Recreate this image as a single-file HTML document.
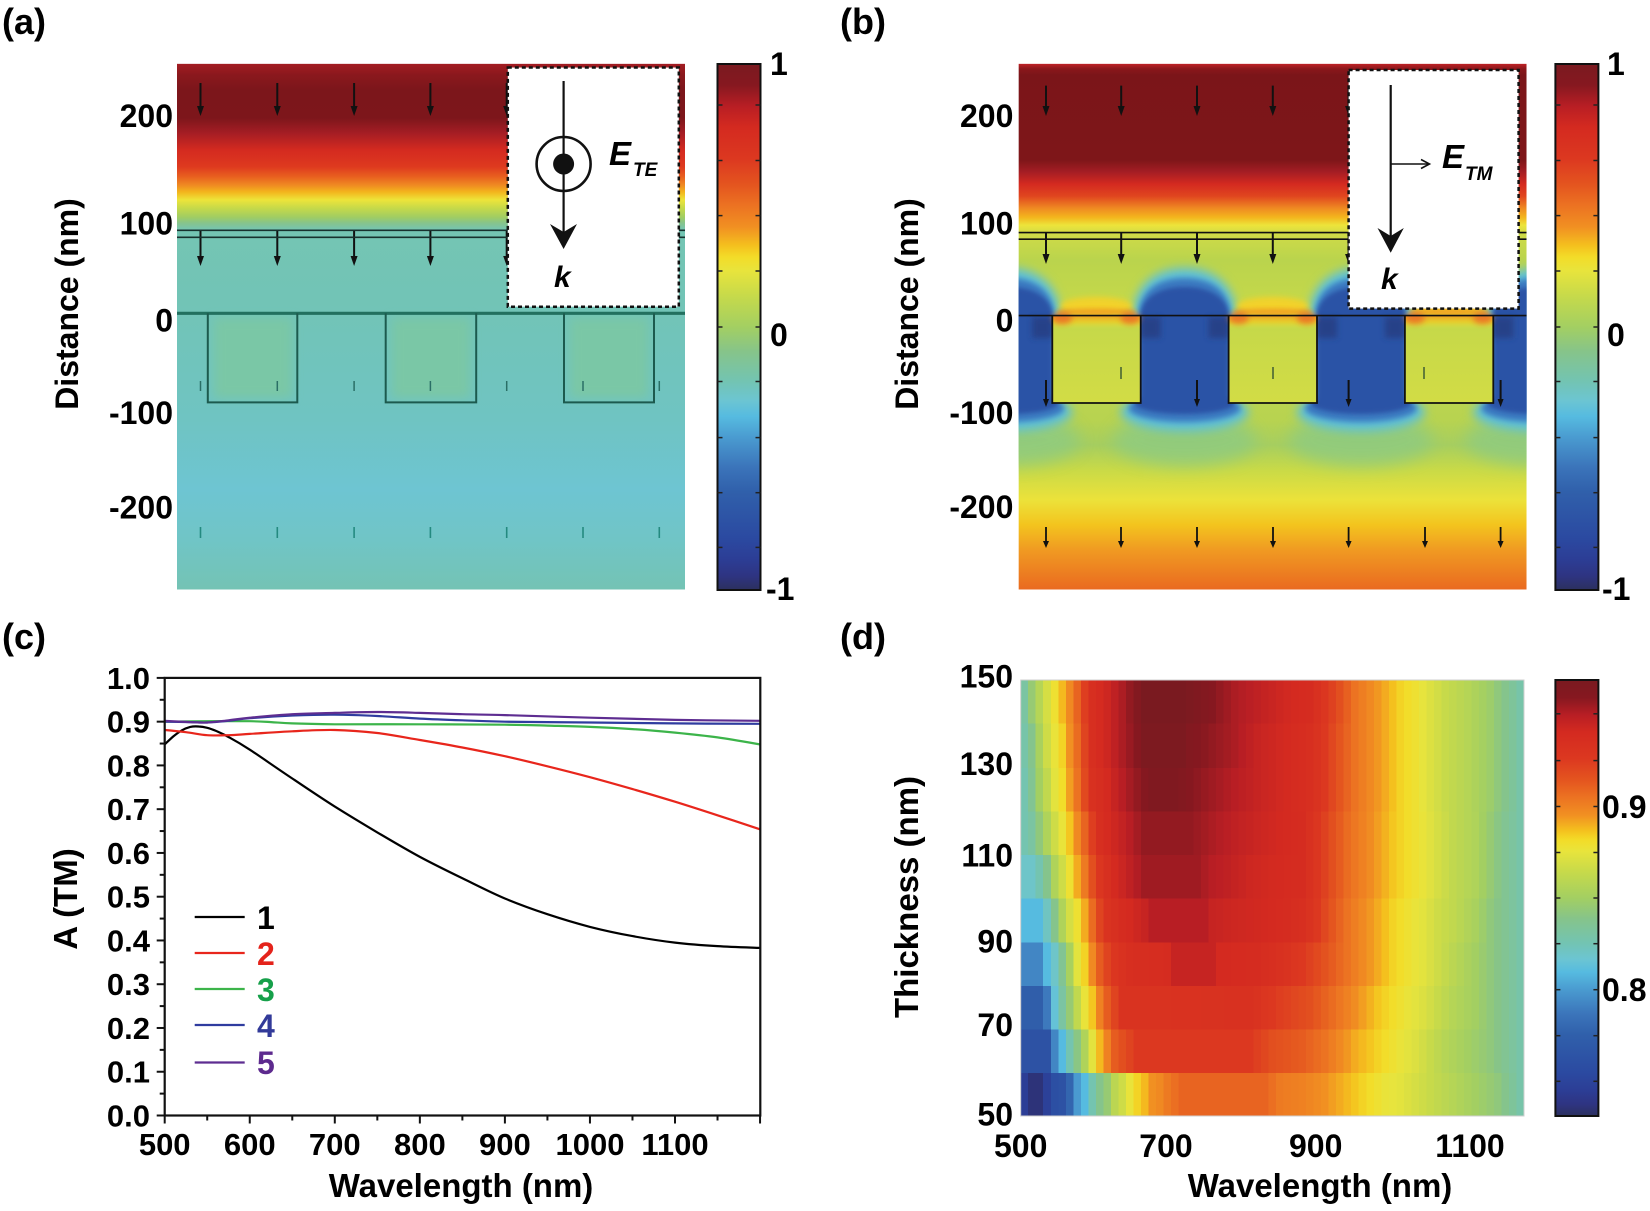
<!DOCTYPE html>
<html><head><meta charset="utf-8">
<style>
html,body{margin:0;padding:0;background:#fff;}
svg{display:block;}
text{font-family:"Liberation Sans",Arial,sans-serif;font-weight:bold;fill:#000;}
</style></head><body>
<svg id="s" width="1650" height="1211" viewBox="0 0 1650 1211" xmlns="http://www.w3.org/2000/svg">
<defs>
 <linearGradient id="cmap" x1="0" y1="0" x2="0" y2="1">
  <stop offset="0" stop-color="#7a1a20"/><stop offset="0.04" stop-color="#861820"/>
  <stop offset="0.08" stop-color="#b81e24"/><stop offset="0.12" stop-color="#d42a20"/>
  <stop offset="0.18" stop-color="#dc3820"/><stop offset="0.23" stop-color="#e4551f"/>
  <stop offset="0.27" stop-color="#ec7322"/><stop offset="0.31" stop-color="#f19022"/>
  <stop offset="0.345" stop-color="#f4c01e"/><stop offset="0.367" stop-color="#f3dc28"/>
  <stop offset="0.393" stop-color="#e8e43c"/><stop offset="0.44" stop-color="#c7da4a"/>
  <stop offset="0.5" stop-color="#a3cf62"/><stop offset="0.547" stop-color="#86c48a"/>
  <stop offset="0.603" stop-color="#73c4b2"/><stop offset="0.64" stop-color="#6cc5d2"/>
  <stop offset="0.67" stop-color="#56bbe0"/><stop offset="0.71" stop-color="#4a9bd0"/>
  <stop offset="0.767" stop-color="#3b74ba"/><stop offset="0.813" stop-color="#3060ab"/>
  <stop offset="0.9" stop-color="#2b4aa1"/><stop offset="0.94" stop-color="#2c3e96"/>
  <stop offset="0.973" stop-color="#2e3482"/><stop offset="1" stop-color="#2c305e"/>
 </linearGradient>
 <linearGradient id="fa" x1="0" y1="0" x2="0" y2="1">
  <stop offset="0" stop-color="#a31c22"/><stop offset="0.0215" stop-color="#8a181d"/>
  <stop offset="0.05" stop-color="#7c161b"/><stop offset="0.103" stop-color="#7d161b"/>
  <stop offset="0.132" stop-color="#a51d24"/><stop offset="0.164" stop-color="#d42a20"/>
  <stop offset="0.196" stop-color="#de3a1f"/><stop offset="0.215" stop-color="#e8601f"/>
  <stop offset="0.231" stop-color="#ef8a22"/><stop offset="0.244" stop-color="#f3b51d"/>
  <stop offset="0.259" stop-color="#ede43a"/><stop offset="0.275" stop-color="#c5d94a"/>
  <stop offset="0.292" stop-color="#a0cd63"/><stop offset="0.303" stop-color="#86c48c"/>
  <stop offset="0.316" stop-color="#74c5b3"/><stop offset="0.449" stop-color="#72c4b6"/>
  <stop offset="0.677" stop-color="#6fc4c2"/><stop offset="0.81" stop-color="#6ec5d2"/>
  <stop offset="0.906" stop-color="#70c5c6"/><stop offset="1" stop-color="#74c3b4"/>
 </linearGradient>
 <linearGradient id="fb" x1="0" y1="0" x2="0" y2="1">
  <stop offset="0" stop-color="#c02226"/><stop offset="0.01" stop-color="#8a171b"/>
  <stop offset="0.0215" stop-color="#7b1519"/><stop offset="0.183" stop-color="#7e1619"/>
  <stop offset="0.206" stop-color="#a51d24"/><stop offset="0.229" stop-color="#d42a20"/>
  <stop offset="0.252" stop-color="#e0461f"/><stop offset="0.275" stop-color="#ef8a22"/>
  <stop offset="0.292" stop-color="#f3b51d"/><stop offset="0.307" stop-color="#ede43a"/>
  <stop offset="0.324" stop-color="#cfdb47"/><stop offset="0.373" stop-color="#bad44d"/>
  <stop offset="0.449" stop-color="#c4d84a"/><stop offset="0.677" stop-color="#b8d350"/>
  <stop offset="0.725" stop-color="#a6ce60"/><stop offset="0.773" stop-color="#c9da47"/>
  <stop offset="0.83" stop-color="#ece23a"/><stop offset="0.877" stop-color="#f3c41e"/>
  <stop offset="0.925" stop-color="#f09a22"/><stop offset="1" stop-color="#ea6a20"/>
 </linearGradient>
 <linearGradient id="strip" x1="0" y1="0" x2="0" y2="1">
  <stop offset="0" stop-color="#f0a024" stop-opacity="1"/>
  <stop offset="0.5" stop-color="#f3c820" stop-opacity="0.7"/>
  <stop offset="1" stop-color="#e8e23c" stop-opacity="0"/>
 </linearGradient>
 <linearGradient id="rin" x1="0" y1="0" x2="0" y2="1">
  <stop offset="0" stop-color="#c4d84a"/><stop offset="1" stop-color="#d2dc45"/>
 </linearGradient>
 <filter id="b2" x="-50%" y="-50%" width="200%" height="200%"><feGaussianBlur stdDeviation="2"/></filter>
 <filter id="b3" x="-50%" y="-50%" width="200%" height="200%"><feGaussianBlur stdDeviation="3"/></filter>
 <filter id="b5" x="-50%" y="-50%" width="200%" height="200%"><feGaussianBlur stdDeviation="5"/></filter>
 <filter id="b8" x="-50%" y="-50%" width="200%" height="200%"><feGaussianBlur stdDeviation="8"/></filter>
 <clipPath id="ca"><rect x="177" y="63.7" width="508" height="525.8"/></clipPath>
 <clipPath id="cb"><rect x="1018.6" y="63.7" width="508" height="525.8"/></clipPath>
</defs>

<!-- ============ (a) ============ -->
<text x="2" y="34" font-size="36">(a)</text>
<g clip-path="url(#ca)">
 <rect x="177" y="63.7" width="508" height="525.8" fill="url(#fa)"/>
 <g fill="#7ac7a6" filter="url(#b5)">
  <rect x="214" y="318" width="78" height="80"/><rect x="392" y="318" width="78" height="80"/><rect x="570" y="318" width="78" height="80"/>
 </g>
 <g id="arrA"></g>
 <line x1="177" y1="230.3" x2="685" y2="230.3" stroke="#17322e" stroke-width="1.6"/>
 <line x1="177" y1="237.3" x2="685" y2="237.3" stroke="#17322e" stroke-width="1.6"/>
 <line x1="177" y1="313.3" x2="685" y2="313.3" stroke="#22705f" stroke-width="3.2"/>
 <g fill="none" stroke="#1c5a4e" stroke-width="2">
  <path d="M207.8,313.3 V402.4 H297.3 V313.3"/>
  <path d="M385.7,313.3 V402.4 H476.2 V313.3"/>
  <path d="M564,313.3 V402.4 H654 V313.3"/>
 </g>
</g>
<rect x="507.8" y="67.5" width="171" height="239.2" fill="#fff" stroke="#111" stroke-width="2.5" stroke-dasharray="4 3"/>
<line x1="563.6" y1="81" x2="563.6" y2="235" stroke="#111" stroke-width="2.2"/>
<path d="M563.6,249 L550,224 L563.6,232 L577,224 Z" fill="#111"/>
<circle cx="563.6" cy="164" r="27" fill="none" stroke="#111" stroke-width="2.6"/>
<circle cx="563.6" cy="164" r="10.5" fill="#111"/>
<text x="609" y="165" font-size="33" font-style="italic">E</text>
<text x="633" y="176" font-size="19" font-style="italic">TE</text>
<text x="554" y="287" font-size="30" font-style="italic">k</text>
<g font-size="32" text-anchor="end">
 <text x="173" y="127">200</text><text x="173" y="234.5">100</text><text x="173" y="331.5">0</text>
 <text x="173" y="424">-100</text><text x="173" y="518.5">-200</text>
</g>
<text transform="translate(78,304) rotate(-90)" font-size="32" text-anchor="middle">Distance (nm)</text>
<rect x="717.5" y="64" width="43" height="526" fill="url(#cmap)" stroke="#111" stroke-width="2"/>
<g id="tkA" stroke="#222" stroke-width="1.5"></g>
<g font-size="32">
 <text x="770" y="75">1</text><text x="770" y="346">0</text><text x="766" y="600">-1</text>
</g>

<!-- ============ (b) ============ -->
<text x="840" y="34" font-size="36">(b)</text>
<g clip-path="url(#cb)">
 <rect x="1018.6" y="63.7" width="508" height="525.8" fill="url(#fb)"/>
 <g id="fieldB"></g>
 <g id="arrB"></g>
 <line x1="1018.6" y1="232.6" x2="1526.6" y2="232.6" stroke="#111" stroke-width="1.6"/>
 <line x1="1018.6" y1="239.2" x2="1526.6" y2="239.2" stroke="#111" stroke-width="1.6"/>
 <line x1="1018.6" y1="315.6" x2="1526.6" y2="315.6" stroke="#111" stroke-width="1.6"/>
 <g fill="none" stroke="#111" stroke-width="1.8">
  <path d="M1052.3,315.6 V403 H1140.7 V315.6"/>
  <path d="M1228.6,315.6 V403 H1317 V315.6"/>
  <path d="M1404.9,315.6 V403 H1493.3 V315.6"/>
 </g>
</g>
<rect x="1348.6" y="70" width="170" height="238.6" fill="#fff" stroke="#111" stroke-width="2.5" stroke-dasharray="4 3"/>
<line x1="1390.7" y1="85" x2="1390.7" y2="238" stroke="#111" stroke-width="2.2"/>
<path d="M1390.7,252.7 L1377.5,228 L1390.7,236 L1403.8,228 Z" fill="#111"/>
<line x1="1390.7" y1="164" x2="1429" y2="164" stroke="#111" stroke-width="1.6"/>
<polyline points="1421,159.5 1429.5,164 1421,168.5" fill="none" stroke="#111" stroke-width="1.6"/>
<text x="1442" y="168" font-size="33" font-style="italic">E</text>
<text x="1465" y="180" font-size="19" font-style="italic">TM</text>
<text x="1381" y="289" font-size="30" font-style="italic">k</text>
<g font-size="32" text-anchor="end">
 <text x="1013.4" y="127">200</text><text x="1013.4" y="234.5">100</text><text x="1013.4" y="331.5">0</text>
 <text x="1013.4" y="424">-100</text><text x="1013.4" y="518">-200</text>
</g>
<text transform="translate(918,304) rotate(-90)" font-size="32" text-anchor="middle">Distance (nm)</text>
<rect x="1555.4" y="64" width="43" height="526" fill="url(#cmap)" stroke="#111" stroke-width="2"/>
<g id="tkB" stroke="#222" stroke-width="1.5"></g>
<g font-size="32">
 <text x="1607" y="75">1</text><text x="1607" y="346">0</text><text x="1602" y="600">-1</text>
</g>

<!-- ============ (c) ============ -->
<text x="2" y="649" font-size="36">(c)</text>
<g id="curves" fill="none" stroke-width="2.2" stroke-linejoin="round"></g>
<rect x="164.7" y="677.9" width="595.6" height="437.6" fill="none" stroke="#111" stroke-width="2.2"/>
<g id="axC" stroke="#111" stroke-width="2"></g>
<g id="lblC" font-size="31"></g>
<text x="461" y="1197" font-size="33" text-anchor="middle">Wavelength (nm)</text>
<text transform="translate(77,899) rotate(-90)" font-size="33" text-anchor="middle">A (TM)</text>
<g stroke-width="2.2">
 <line x1="194.7" y1="917" x2="244.7" y2="917" stroke="#000"/>
 <line x1="194.7" y1="953" x2="244.7" y2="953" stroke="#e8261c"/>
 <line x1="194.7" y1="989" x2="244.7" y2="989" stroke="#3cb44a"/>
 <line x1="194.7" y1="1025" x2="244.7" y2="1025" stroke="#2f3c9f"/>
 <line x1="194.7" y1="1062.5" x2="244.7" y2="1062.5" stroke="#5e2d91"/>
</g>
<g font-size="32">
 <text x="257" y="929" fill="#000">1</text>
 <text x="257" y="965" style="fill:#e4231b">2</text>
 <text x="257" y="1001" style="fill:#16a04a">3</text>
 <text x="257" y="1037" style="fill:#323a99">4</text>
 <text x="257" y="1074" style="fill:#5d2a8e">5</text>
</g>

<!-- ============ (d) ============ -->
<text x="840" y="649" font-size="36">(d)</text>
<g id="heat" shape-rendering="crispEdges"></g>
<rect x="1020.7" y="680" width="503.3" height="436" fill="none" stroke="#cfcfcf" stroke-width="1"/>
<g font-size="32" text-anchor="end">
 <text x="1013" y="687.5">150</text><text x="1013" y="775">130</text><text x="1013" y="866.5">110</text>
 <text x="1013" y="952.5">90</text><text x="1013" y="1036">70</text><text x="1013" y="1125.5">50</text>
</g>
<g font-size="32" text-anchor="middle">
 <text x="1020.7" y="1157">500</text><text x="1166" y="1157">700</text>
 <text x="1315.7" y="1157">900</text><text x="1470" y="1157">1100</text>
</g>
<text x="1320" y="1197" font-size="33" text-anchor="middle">Wavelength (nm)</text>
<text transform="translate(918,897) rotate(-90)" font-size="33" text-anchor="middle">Thickness (nm)</text>
<rect x="1555.4" y="680" width="43" height="436" fill="url(#cmap)" stroke="#111" stroke-width="2"/>
<g id="tkD" stroke="#222" stroke-width="1.5"></g>
<g font-size="32">
 <text x="1602" y="818">0.9</text><text x="1602" y="1001">0.8</text>
</g>
</svg>
<script>
(function(){
var NS='http://www.w3.org/2000/svg';
function el(tag,a,p){var e=document.createElementNS(NS,tag);for(var k in a)e.setAttribute(k,a[k]);p.appendChild(e);return e;}
function $(id){return document.getElementById(id);}

function cbt(g,x0,x1,ys){ys.forEach(function(y){el('line',{x1:x0,y1:y,x2:x0+5,y2:y},g);el('line',{x1:x1-5,y1:y,x2:x1,y2:y},g);});}
var tA=[105,160.5,215.6,271,327,381.5,437.6,492.7,547.4];
cbt($('tkA'),717.5,760.5,tA);
cbt($('tkB'),1555.4,1598.4,tA);
cbt($('tkD'),1555.4,1598.4,[713.8,760.6,806.5,852.5,898,943.7,989.7,1035.7,1081.3]);

function arrow(g,x,y1,y2,col,w,hw,hl){
  el('line',{x1:x,y1:y1,x2:x,y2:y2-hl+1,stroke:col,'stroke-width':w},g);
  el('polygon',{points:(x-hw)+','+(y2-hl)+' '+(x+hw)+','+(y2-hl)+' '+x+','+y2,fill:col},g);
}
var gA=$('arrA');
var xa=[200.5,277.3,354.1,430.4,506.7];
xa.forEach(function(x){arrow(gA,x,83,116,'#111',2,3.5,10);arrow(gA,x,231,266,'#111',2,3.5,10);});
var xa7=[200.5,277.3,354.1,430.4,506.7,583,659.3];
xa7.forEach(function(x){el('line',{x1:x,y1:381,x2:x,y2:391,stroke:'#2a6f66','stroke-width':1.5},gA);
  el('line',{x1:x,y1:527,x2:x,y2:538,stroke:'#248a80','stroke-width':1.6},gA);});

/* field B */
var fB=$('fieldB');
var dc=[1008.3,1184.6,1361,1537.3], hw=44;
var scal=el('g',{fill:'#8fcb80',filter:'url(#b8)',opacity:'0.85'},fB);
dc.forEach(function(cx){ el('ellipse',{cx:cx,cy:440,rx:72,ry:26},scal); });
var halo=el('g',{fill:'#5cc0da',filter:'url(#b5)'},fB);
dc.forEach(function(cx){
  el('path',{d:'M'+(cx-hw-8)+',412 L'+(cx-hw-8)+',318 C'+(cx-hw-8)+',286 '+(cx-30)+',268 '+cx+',268 C'+(cx+30)+',268 '+(cx+hw+8)+',286 '+(cx+hw+8)+',318 L'+(cx+hw+8)+',412 Z'},halo);
  el('ellipse',{cx:cx,cy:412,rx:64,ry:19},halo);
});
var mid=el('g',{fill:'#3a78c0',filter:'url(#b3)'},fB);
var core=el('g',{fill:'#2b52a6',filter:'url(#b2)'},fB);
dc.forEach(function(cx){
  el('path',{d:'M'+(cx-hw-2)+',406 L'+(cx-hw-2)+',318 C'+(cx-hw-2)+',292 '+(cx-28)+',278 '+cx+',278 C'+(cx+28)+',278 '+(cx+hw+2)+',292 '+(cx+hw+2)+',318 L'+(cx+hw+2)+',406 Z'},mid);
  el('ellipse',{cx:cx,cy:408,rx:56,ry:14},mid);
  el('path',{d:'M'+(cx-hw)+',404 L'+(cx-hw)+',318 C'+(cx-hw)+',297 '+(cx-24)+',287 '+cx+',287 C'+(cx+24)+',287 '+(cx+hw)+',297 '+(cx+hw)+',318 L'+(cx+hw)+',404 Z'},core);
  el('ellipse',{cx:cx,cy:403,rx:50,ry:11},core);
});
var dk=el('g',{fill:'#263f85',filter:'url(#b3)',opacity:'0.9'},fB);
dc.forEach(function(cx){
  el('rect',{x:cx-hw,y:317,width:20,height:21},dk);
  el('rect',{x:cx+hw-20,y:317,width:20,height:21},dk);
});
var rx=[1052.3,1228.6,1404.9];
var yb=el('g',{fill:'#f2d22c',filter:'url(#b3)'},fB);
rx.forEach(function(x){el('ellipse',{cx:x+44,cy:306,rx:36,ry:9},yb);});
var ob=el('g',{fill:'#f0a424',filter:'url(#b2)'},fB);
rx.forEach(function(x){el('ellipse',{cx:x+44,cy:312,rx:40,ry:3.5},ob);});
rx.forEach(function(x){
  el('rect',{x:x,y:315.6,width:88.4,height:87.4,fill:'url(#rin)'},fB);
  el('rect',{x:x,y:315.6,width:88.4,height:13,fill:'url(#strip)'},fB);
});
var oc=el('g',{fill:'#ea6e26',filter:'url(#b3)',opacity:'0.85'},fB);
rx.forEach(function(x){
  el('ellipse',{cx:x+10,cy:318,rx:10,ry:6},oc);
  el('ellipse',{cx:x+78,cy:318,rx:10,ry:6},oc);
});

var gB=$('arrB');
[1046,1121.2,1197,1272.8,1348.6].forEach(function(x){arrow(gB,x,85.6,116,'#111',2,3.5,10);arrow(gB,x,233,264,'#111',2,3.5,10);});
[1046,1197,1348.6,1500.6].forEach(function(x){arrow(gB,x,380,407,'#111',2,3,8);});
[1121,1273,1424].forEach(function(x){el('line',{x1:x,y1:367,x2:x,y2:379,stroke:'#2a4a30','stroke-width':1.3},gB);});
[1046,1121,1197,1273,1348.6,1425,1500.6].forEach(function(x){arrow(gB,x,527,548,'#111',1.8,3,7);});

/* colormap */
var cm=[[0,'#7a1a20'],[0.04,'#861820'],[0.08,'#b81e24'],[0.12,'#d42a20'],[0.18,'#dc3820'],[0.23,'#e4551f'],[0.27,'#ec7322'],[0.31,'#f19022'],[0.345,'#f4c01e'],[0.367,'#f3dc28'],[0.393,'#e8e43c'],[0.44,'#c7da4a'],[0.5,'#a3cf62'],[0.547,'#86c48a'],[0.603,'#73c4b2'],[0.64,'#6cc5d2'],[0.67,'#56bbe0'],[0.71,'#4a9bd0'],[0.767,'#3b74ba'],[0.813,'#3060ab'],[0.9,'#2b4aa1'],[0.94,'#2c3e96'],[0.973,'#2e3482'],[1,'#2c305e']];
function hx(h){return [parseInt(h.substr(1,2),16),parseInt(h.substr(3,2),16),parseInt(h.substr(5,2),16)];}
function cmap(f){f=Math.max(0,Math.min(1,f));for(var i=0;i<cm.length-1;i++){if(f<=cm[i+1][0]){var t=(f-cm[i][0])/(cm[i+1][0]-cm[i][0]);var a=hx(cm[i][1]),b=hx(cm[i+1][1]);return 'rgb('+Math.round(a[0]+(b[0]-a[0])*t)+','+Math.round(a[1]+(b[1]-a[1])*t)+','+Math.round(a[2]+(b[2]-a[2])*t)+')';}}return cm[cm.length-1][1];}
function interp(pts,c){for(var i=0;i<pts.length-1;i++){if(c<=pts[i+1][0]){var t=(c-pts[i][0])/(pts[i+1][0]-pts[i][0]);return pts[i][1]+(pts[i+1][1]-pts[i][1])*t;}}return pts[pts.length-1][1];}
var R=[
[[0,.94],[1,.98],[2,.98],[3,.93],[4,.88],[5,.87],[6,.80],[7,.71],[8,.67],[9,.6],[10,.55],[11,.52],[12,.46],[13,.43],[14,.39],[15,.36],[16,.34],[17,.31],[18,.3],[19,.28],[21,.25],[32,.25],[34,.28],[37,.29],[40,.31],[42,.33],[44,.35],[46,.37],[48,.39],[50,.40],[52,.42],[54,.44],[57,.47],[60,.5],[63,.53],[65,.57],[66,.59]],
[[0,.87],[3,.87],[4,.74],[5,.67],[6,.6],[7,.54],[8,.48],[9,.4],[10,.34],[11,.29],[12,.24],[14,.2],[15,.18],[30,.18],[33,.22],[37,.24],[40,.27],[42,.3],[44,.33],[46,.35],[48,.37],[50,.39],[52,.41],[54,.44],[56,.47],[59,.5],[62,.53],[64,.56],[66,.59]],
[[0,.82],[2,.82],[3,.76],[4,.65],[5,.58],[6,.52],[7,.45],[8,.39],[9,.35],[10,.29],[11,.24],[12,.2],[13,.16],[30,.15],[34,.19],[38,.22],[41,.26],[43,.29],[45,.32],[47,.35],[49,.37],[51,.39],[53,.41],[55,.44],[57,.47],[60,.5],[62,.53],[64,.56],[66,.59]],
[[0,.74],[2,.74],[3,.67],[4,.63],[5,.56],[6,.49],[7,.40],[8,.36],[9,.30],[10,.24],[11,.2],[12,.17],[14,.14],[19,.13],[20,.1],[25,.1],[26,.12],[31,.13],[34,.15],[37,.18],[39,.21],[41,.24],[43,.27],[45,.3],[47,.33],[49,.36],[51,.38],[53,.4],[55,.43],[57,.46],[60,.5],[62,.53],[64,.56],[66,.59]],
[[0,.67],[2,.67],[3,.62],[4,.55],[5,.48],[6,.42],[7,.38],[8,.33],[9,.26],[10,.2],[11,.16],[13,.13],[16,.1],[17,.08],[24,.08],[25,.1],[28,.11],[33,.12],[37,.14],[39,.18],[41,.23],[43,.27],[45,.3],[47,.33],[49,.36],[51,.38],[53,.4],[55,.43],[57,.45],[60,.49],[62,.53],[64,.56],[66,.59]],
[[0,.63],[1,.63],[2,.6],[3,.55],[4,.48],[5,.43],[6,.38],[7,.33],[8,.28],[9,.22],[10,.17],[12,.12],[14,.09],[16,.06],[23,.06],[25,.08],[27,.09],[30,.11],[37,.13],[39,.17],[41,.22],[43,.26],[45,.29],[47,.32],[49,.35],[51,.37],[53,.39],[55,.42],[57,.45],[60,.48],[62,.52],[64,.56],[66,.59]],
[[0,.6],[1,.58],[2,.53],[3,.48],[4,.43],[5,.39],[6,.35],[7,.30],[8,.25],[9,.19],[10,.14],[12,.11],[14,.08],[16,.05],[22,.05],[25,.07],[28,.09],[32,.11],[37,.13],[39,.17],[41,.22],[43,.26],[45,.29],[47,.32],[49,.35],[51,.37],[53,.39],[55,.42],[57,.45],[60,.48],[62,.52],[64,.56],[66,.59]],
[[0,.6],[1,.56],[2,.5],[3,.45],[4,.40],[5,.37],[6,.32],[7,.27],[8,.21],[9,.15],[11,.12],[13,.08],[15,.05],[17,.02],[20,.02],[22,.04],[25,.06],[28,.08],[31,.1],[35,.12],[38,.14],[40,.18],[42,.23],[44,.27],[46,.3],[48,.33],[50,.36],[52,.38],[54,.41],[56,.44],[59,.47],[62,.51],[64,.55],[66,.59]],
[[0,.59],[1,.55],[2,.49],[3,.43],[4,.39],[5,.36],[6,.31],[7,.26],[8,.2],[9,.14],[11,.11],[13,.07],[15,.04],[16,.01],[21,.01],[22,.03],[25,.05],[28,.07],[31,.1],[35,.12],[38,.14],[40,.18],[42,.23],[44,.27],[46,.3],[48,.33],[50,.36],[52,.38],[54,.41],[56,.44],[59,.47],[62,.51],[64,.55],[66,.59]],
[[0,.58],[1,.52],[2,.47],[3,.42],[4,.38],[5,.34],[6,.30],[7,.25],[8,.19],[9,.14],[11,.11],[13,.07],[15,.03],[16,.0],[21,.0],[23,.02],[25,.04],[28,.07],[31,.09],[34,.11],[38,.13],[40,.17],[42,.22],[44,.27],[46,.30],[48,.33],[50,.36],[52,.38],[54,.41],[56,.44],[59,.47],[62,.51],[64,.55],[66,.59]]
];
var H=$('heat'),x0=1020.7,x1=1524,y0=680,y1=1116,cw=(x1-x0)/67,rh=(y1-y0)/10;
for(var r=0;r<10;r++){for(var c=0;c<67;c++){
  var f=interp(R[r],c);
  el('rect',{x:(x0+c*cw).toFixed(2),y:(y1-(r+1)*rh).toFixed(2),width:(c==66?cw:cw+0.7).toFixed(2),height:(r==9?rh:rh+0.7).toFixed(2),fill:cmap(f)},H);
}}

/* panel c */
function X(l){return 164.7+(l-500)*0.8505;}
function Y(v){return 1115.5-v*437.6;}
var ax=$('axC'),lb=$('lblC');
for(var i=0;i<=20;i++){var v=i*0.05,y=Y(v),L=(i%2==0)?8:5;el('line',{x1:164.7-L,y1:y,x2:164.7,y2:y},ax);
  if(i%2==0){var t=el('text',{x:150,y:(y+11).toFixed(1),'text-anchor':'end'},lb);t.textContent=(i/20).toFixed(1);}}
for(var l=500;l<=1200;l+=50){var x=X(l),L=(l%100==0)?8:5;el('line',{x1:x,y1:1115.5,x2:x,y2:1115.5+L},ax);
  if(l%100==0&&l<1200){var t2=el('text',{x:x.toFixed(1),y:1155,'text-anchor':'middle'},lb);t2.textContent=l;}}

function cr(pts){var d='M'+pts[0][0].toFixed(1)+','+pts[0][1].toFixed(1);var n=pts.length;
  for(var i=0;i<n-1;i++){var p0=pts[Math.max(i-1,0)],p1=pts[i],p2=pts[i+1],p3=pts[Math.min(i+2,n-1)];
    d+=' C'+(p1[0]+(p2[0]-p0[0])/6).toFixed(1)+','+(p1[1]+(p2[1]-p0[1])/6).toFixed(1)+' '+(p2[0]-(p3[0]-p1[0])/6).toFixed(1)+','+(p2[1]-(p3[1]-p1[1])/6).toFixed(1)+' '+p2[0].toFixed(1)+','+p2[1].toFixed(1);}
  return d;}
var D=[
 ['#000',[[500,.848],[510,.866],[520,.88],[530,.888],[540,.889],[550,.886],[560,.879],[575,.865],[600,.836],[650,.770],[700,.706],[750,.647],[800,.591],[850,.542],[900,.496],[950,.460],[1000,.431],[1050,.410],[1100,.395],[1150,.387],[1200,.383]]],
 ['#e8261c',[[500,.881],[525,.876],[550,.869],[575,.869],[600,.872],[650,.878],[700,.881],[750,.874],[800,.858],[850,.841],[900,.821],[950,.798],[1000,.773],[1050,.746],[1100,.717],[1150,.686],[1200,.654]]],
 ['#3cb44a',[[500,.900],[550,.901],[600,.901],[625,.899],[650,.896],[700,.894],[800,.894],[900,.893],[950,.891],[1000,.888],[1050,.883],[1100,.875],[1150,.864],[1200,.848]]],
 ['#2f3c9f',[[500,.900],[530,.899],[550,.898],[575,.902],[600,.908],[650,.914],[700,.916],[750,.913],[800,.907],[850,.903],[900,.900],[1000,.898],[1100,.896],[1200,.895]]],
 ['#5e2d91',[[500,.902],[530,.899],[550,.898],[575,.903],[600,.909],[650,.917],[700,.920],[750,.922],[800,.920],[850,.917],[900,.915],[1000,.909],[1100,.904],[1200,.902]]]
];
var gc=$('curves');
D.forEach(function(s){var pts=s[1].map(function(p){return [X(p[0]),Y(p[1])];});el('path',{d:cr(pts),stroke:s[0]},gc);});
})();
</script>
</body></html>
